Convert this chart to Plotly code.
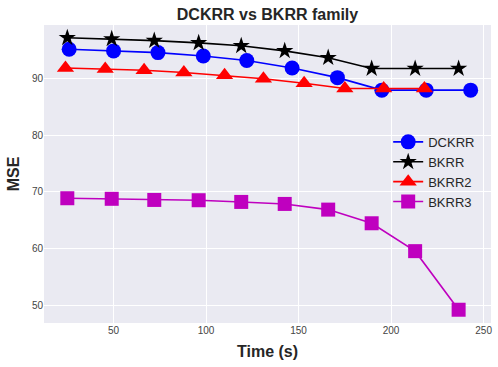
import plotly.graph_objects as go

FONT = "Liberation Sans, Arial, sans-serif"
TEXT = "#262626"

# ------------------------------------------------------------------
# Data
# ------------------------------------------------------------------
dckrr_time = [26, 50, 74, 98.5, 122, 146.5, 171, 195, 219, 243]
dckrr_mse = [95.1, 94.8, 94.5, 93.9, 93.1, 91.8, 90.1, 87.9, 87.9, 87.9]

bkrr_time = [25, 49, 72, 96, 119, 142.5, 166, 189.5, 213, 236.5]
bkrr_mse = [97.1, 96.9, 96.6, 96.2, 95.7, 94.8, 93.6, 91.7, 91.7, 91.7]

bkrr2_time = [24, 45.5, 66.5, 88, 110, 131, 153, 175, 196, 218]
bkrr2_mse = [91.8, 91.6, 91.4, 91.0, 90.5, 89.9, 89.1, 88.2, 88.2, 88.2]

bkrr3_time = [25, 49, 72, 96, 119, 142.5, 166, 189.5, 213, 236.5]
bkrr3_mse = [68.9, 68.8, 68.6, 68.55, 68.25, 67.9, 66.9, 64.5, 59.6, 49.3]

series = [
    ("DCKRR", dckrr_time, dckrr_mse, "#0000ff", "circle", 15),
    ("BKRR", bkrr_time, bkrr_mse, "#000000", "star", 13),
    ("BKRR2", bkrr2_time, bkrr2_mse, "#ff0000", "triangle-up", 15),
    ("BKRR3", bkrr3_time, bkrr3_mse, "#bf00bf", "square", 14),
]

fig = go.Figure()
for name, x, y, color, symbol, size in series:
    fig.add_trace(
        go.Scatter(
            x=x,
            y=y,
            mode="lines+markers",
            name=name,
            line=dict(color=color, width=1.6),
            marker=dict(symbol=symbol, size=size, color=color, line=dict(width=0)),
        )
    )

axis_style = dict(
    showgrid=True,
    gridcolor="white",
    gridwidth=1.2,
    zeroline=False,
    showline=False,
    ticks="",
    tickfont=dict(family=FONT, size=10, color="#444"),
)

fig.update_layout(
    width=498,
    height=367,
    paper_bgcolor="white",
    plot_bgcolor="#EAEAF2",
    margin=dict(l=44, r=7, t=25, b=44),
    title=dict(
        text="<b>DCKRR vs BKRR family</b>",
        x=(44 + 491) / 2 / 498,
        xanchor="center",
        y=0.962,
        yanchor="middle",
        font=dict(family=FONT, size=16, color=TEXT),
    ),
    xaxis=dict(
        range=[12.4, 254],
        tickvals=[50, 100, 150, 200, 250],
        title=dict(text="<b>Time (s)</b>", font=dict(family=FONT, size=16, color=TEXT), standoff=10),
        **axis_style,
    ),
    yaxis=dict(
        range=[46.97, 99.35],
        tickvals=[50, 60, 70, 80, 90],
        title=dict(text="<b>MSE</b>", font=dict(family=FONT, size=16, color=TEXT), standoff=8),
        **axis_style,
    ),
    legend=dict(
        x=0.77,
        y=0.658,
        xanchor="left",
        yanchor="top",
        bgcolor="rgba(0,0,0,0)",
        font=dict(family=FONT, size=13, color=TEXT),
        tracegroupgap=0,
    ),
    showlegend=True,
)

# the page body has a default 8px margin; drop it so the figure fills the window
fig.write_html(
    "out.html",
    config={"displayModeBar": False},
    post_script="document.body.style.margin='0';",
)
